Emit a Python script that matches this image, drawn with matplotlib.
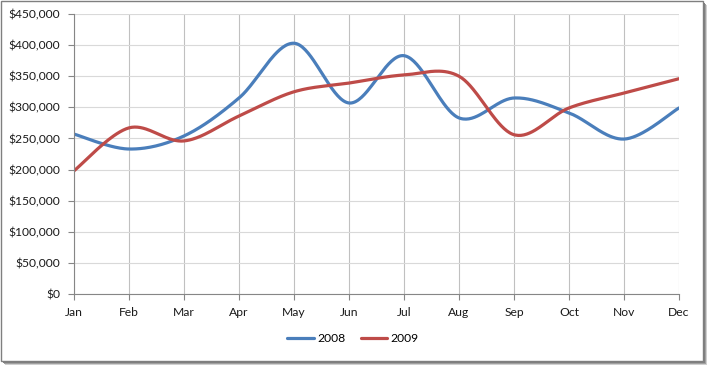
import matplotlib.pyplot as plt
import numpy as np
from matplotlib.patches import Rectangle
from matplotlib.ticker import FuncFormatter, MultipleLocator

months = ["Jan", "Feb", "Mar", "Apr", "May", "Jun",
          "Jul", "Aug", "Sep", "Oct", "Nov", "Dec"]
sales_2008 = [257000, 233000, 254000, 315000, 403000, 307000,
              383000, 283000, 315000, 291000, 249000, 299000]
sales_2009 = [198000, 267000, 246000, 286000, 325000, 339000,
              352000, 350000, 256000, 299000, 323000, 346000]


# excel style smoothing (catmull-rom bezier)
def smooth(y, n=40):
    x = np.arange(len(y), dtype=float)
    y = np.asarray(y, dtype=float)
    xs, ys = [], []
    for i in range(len(y) - 1):
        p0 = (x[max(i - 1, 0)], y[max(i - 1, 0)])
        p1 = (x[i], y[i])
        p2 = (x[i + 1], y[i + 1])
        p3 = (x[min(i + 2, len(y) - 1)], y[min(i + 2, len(y) - 1)])
        c1 = (p1[0] + (p2[0] - p0[0]) / 6, p1[1] + (p2[1] - p0[1]) / 6)
        c2 = (p2[0] - (p3[0] - p1[0]) / 6, p2[1] - (p3[1] - p1[1]) / 6)
        t = np.linspace(0, 1, n)
        for k in range(2):
            pts = [p1[k], c1[k], c2[k], p2[k]]
            v = ((1 - t) ** 3 * pts[0] + 3 * (1 - t) ** 2 * t * pts[1]
                 + 3 * (1 - t) * t ** 2 * pts[2] + t ** 3 * pts[3])
            (xs if k == 0 else ys).append(v)
    return np.concatenate(xs), np.concatenate(ys)


plt.rcParams["font.family"] = ["Lato", "DejaVu Sans"]

fig = plt.figure(figsize=(7.09, 3.65), dpi=100)

# border with drop shadow
for off, col in [(4, "#d0d0d0"), (3, "#a0a0a0"), (2, "#808080")]:
    fig.patches.append(Rectangle((0.5 + off, 4.5 - off), 702.5, 360, transform=None,
                                 facecolor=col, edgecolor="none", zorder=-3))
fig.patches.append(Rectangle((0.5, 4.5), 702.5, 360, transform=None,
                             facecolor="white", edgecolor="#7f7f7f", lw=1, zorder=-2))

ax = fig.add_axes([74 / 709, 1 - 294 / 365, (679 - 74) / 709, (294 - 14) / 365])
ax.set_facecolor("none")
ax.set_zorder(5)

x = np.arange(len(months))
bx, by = smooth(sales_2008)
rx, ry = smooth(sales_2009)
ax.plot(bx, by, color="#4A7EBB", lw=2.3, label="2008", solid_capstyle="round")
ax.plot(rx, ry, color="#BE4B48", lw=2.3, label="2009", solid_capstyle="round")

ax.set_xlim(0, 11)
ax.set_ylim(0, 450000)
ax.set_xticks(x)
ax.set_xticklabels(months)
ax.yaxis.set_major_locator(MultipleLocator(50000))
ax.yaxis.set_major_formatter(FuncFormatter(lambda v, p: "${:,.0f}".format(v)))

ax.grid(axis="y", color="#d9d9d9", lw=0.8)
ax.grid(axis="x", color="#c0c0c0", lw=0.8)
ax.set_axisbelow(True)
for s in ["top", "right"]:
    ax.spines[s].set_visible(False)
for s in ["left", "bottom"]:
    ax.spines[s].set_color("#868686")
ax.tick_params(axis="both", colors="#868686", labelcolor="#1a1a1a",
               labelsize=8.7, length=4, direction="out")
ax.tick_params(axis="x", pad=5)
ax.tick_params(axis="y", pad=6)

leg = fig.legend(loc="center", bbox_to_anchor=(353 / 709, 1 - 339 / 365),
                 ncol=2, frameon=False, fontsize=8.7, handlelength=2.2,
                 handletextpad=0.25, columnspacing=1.3)

plt.savefig("out.png", dpi=100)
